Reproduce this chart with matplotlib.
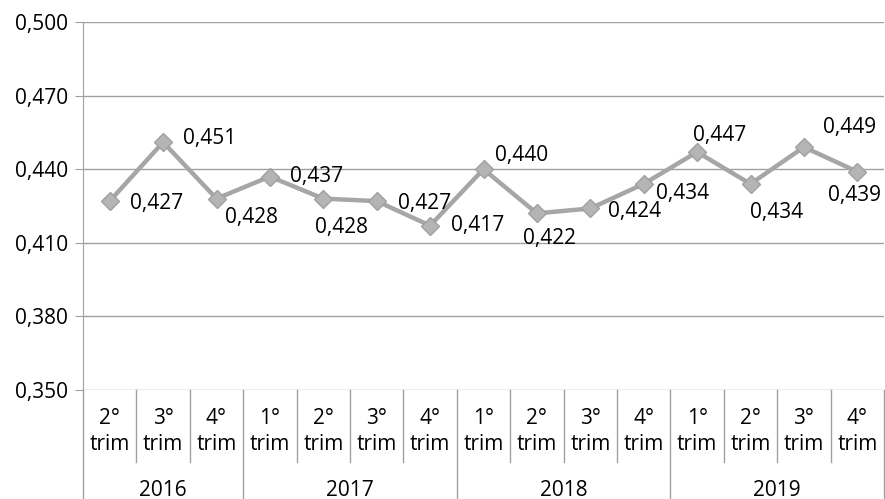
import matplotlib.pyplot as plt
from matplotlib.transforms import blended_transform_factory

plt.rcParams['font.family'] = ['Open Sans', 'DejaVu Sans']

# -------------------------------
# Data
# -------------------------------
years = ["2016", "2017", "2018", "2019"]
quarters = ["2°", "3°", "4°", "1°", "2°", "3°", "4°",
            "1°", "2°", "3°", "4°", "1°", "2°", "3°", "4°"]
year_counts = [3, 4, 4, 4]
values = [0.427, 0.451, 0.428, 0.437, 0.428, 0.427, 0.417,
          0.440, 0.422, 0.424, 0.434, 0.447, 0.434, 0.449, 0.439]

# label offsets in pixels (dx, dy), Excel-like placement
label_offsets = [(47, -2), (47, 4), (35, -19), (47, 0), (18, -29), (48, -2),
                 (48, 0), (38, 14), (13, -25), (44, -3), (39, -10), (23, 17),
                 (26, -29), (46, 20), (-3, -24)]

GRID = "#a0a0a0"
LINE = "#a6a6a6"
FS = 15

fig = plt.figure(figsize=(8.85, 4.99), dpi=100)
ax = fig.add_axes([83 / 885, 1 - 390 / 499, 801 / 885, 368 / 499])

x = list(range(len(values)))
ax.plot(x, values, color=LINE, lw=3.2, marker="D", ms=9,
        markerfacecolor="#b4b4b4", markeredgecolor="#a0a0a0", zorder=3)

for xi, v, (dx, dy) in zip(x, values, label_offsets):
    ax.annotate(f"{v:.3f}".replace(".", ","), (xi, v), xytext=(dx, dy),
                textcoords="offset pixels", ha="center", va="center",
                fontsize=FS, color="black")

ax.set_xlim(-0.5, len(values) - 0.5)
ax.set_ylim(0.350, 0.500)
yt = [0.350, 0.380, 0.410, 0.440, 0.470, 0.500]
ax.set_yticks(yt)
ax.set_yticklabels([f"{t:.3f}".replace(".", ",") for t in yt], fontsize=FS)
ax.yaxis.grid(True, color=GRID, lw=1)
ax.set_axisbelow(True)
ax.set_xticks([])
for s in ["top", "right", "bottom"]:
    ax.spines[s].set_visible(False)
ax.spines["left"].set_color(GRID)
ax.tick_params(axis="y", length=6, color=GRID, pad=5)

# -------------------------------
# Two-level category axis
# -------------------------------
tr = blended_transform_factory(ax.transData, ax.transAxes)
px = 1 / 368  # one pixel in axes units (vertical)
for i, q in enumerate(quarters):
    ax.text(i, -28 * px, q, transform=tr, ha="center", va="center",
            fontsize=FS, clip_on=False)
    ax.text(i, -54 * px, "trim", transform=tr, ha="center", va="center",
            fontsize=FS, clip_on=False)

year_edges = [0]
for c in year_counts:
    year_edges.append(year_edges[-1] + c)
for i in range(1, len(values)):
    if i in year_edges:
        continue
    ax.plot([i - 0.5, i - 0.5], [0, -72 * px], transform=tr, color=GRID,
            lw=1, clip_on=False)
for e in year_edges:
    ax.plot([e - 0.5, e - 0.5], [0, -109 * px], transform=tr, color=GRID,
            lw=1, clip_on=False)
for y, a, b in zip(years, year_edges[:-1], year_edges[1:]):
    ax.text((a + b - 1) / 2, -100 * px, y, transform=tr, ha="center",
            va="center", fontsize=FS, clip_on=False)

fig.savefig("out.png", dpi=100)
